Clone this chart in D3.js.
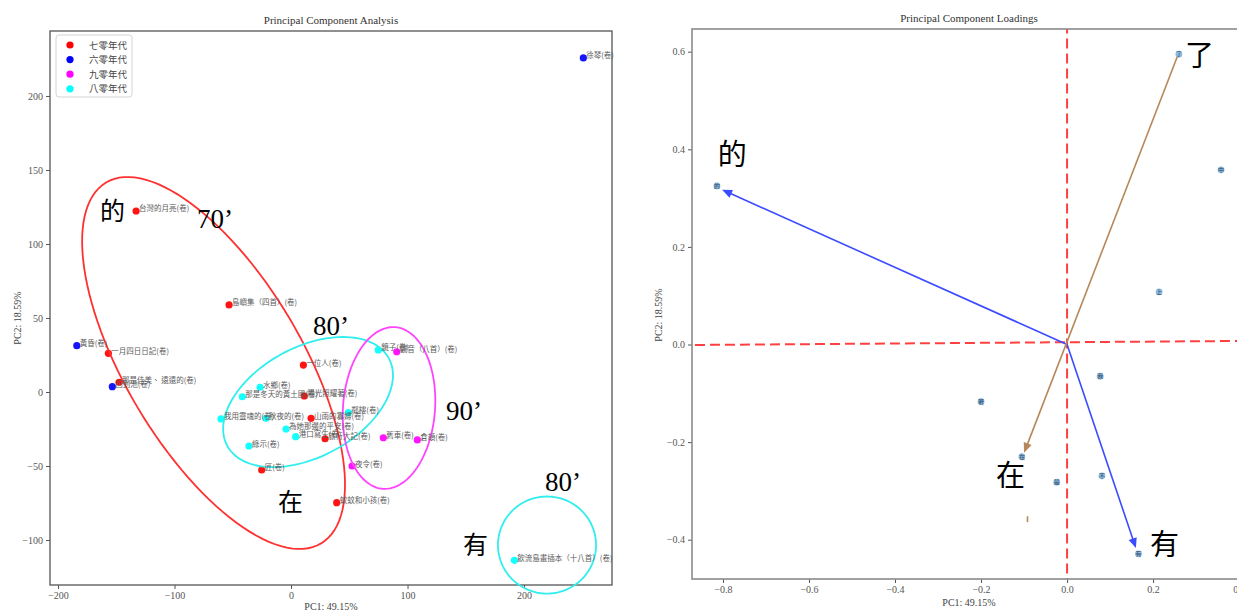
<!DOCTYPE html>
<html><head><meta charset="utf-8">
<script src="https://cdn.jsdelivr.net/npm/d3@7"></script>
<style>body{margin:0;background:#fff}</style>
</head><body>
<svg id="c" width="1237" height="612"></svg>
<script>
// ---------- Left chart data (PCA scores) ----------
const decades = ["七零年代", "六零年代", "九零年代", "八零年代"];
const decadeColors = ["#ff0000", "#0000ff", "#ff00ff", "#00ffff"];

const poemNames = [
  "台灣的月亮(卷)", "島嶼集（四首）(卷)", "一月四日日記(卷)", "那是佳美、 遠遠的(卷)", "一位人(卷)",
  "陽光照耀著(卷)", "山雨的寡婦(卷)", "旅行大記(卷)", "匠(卷)", "蚊蚊和小孩(卷)",
  "徐琴(卷)", "黃昏(卷)", "回到池(卷)",
  "觀音（八首）(卷)", "舊車(卷)", "倉頡(卷)", "夜令(卷)",
  "鏡子(卷)", "水鄉(卷)", "那是冬天的黃土國(卷)", "我用靈魂的(卷)", "秋夜的(卷)",
  "鄰樓(卷)", "為她那邊的平安(卷)", "港口寫生(卷)", "綠示(卷)", "飲流島畫插本（十八首）(卷)"
];
const poemDecade = [
  0, 0, 0, 0, 0, 0, 0, 0, 0, 0,
  1, 1, 1,
  2, 2, 2, 2,
  3, 3, 3, 3, 3, 3, 3, 3, 3, 3
];
const pc1 = [
  -133.0, -53.2, -156.8, -147.6, 10.6, 11.4, 17.2, 29.2, -25.2, 39.2,
  250.9, -183.9, -153.4,
  90.7, 79.2, 108.4, 52.4,
  74.9, -26.6, -41.8, -60.1, -21.5, 49.2, -4.3, 4.0, -36.1, 191.7
];
const pc2 = [
  122.3, 58.8, 26.1, 6.6, 18.2, -2.7, -17.8, -31.6, -52.7, -74.8,
  225.7, 31.3, 3.6,
  27.2, -30.9, -32.4, -50.0,
  28.4, 3.2, -3.2, -18.2, -17.8, -14.0, -25.0, -30.2, -36.5, -113.7
];

const scoreXTicks = [-200, -100, 0, 100, 200];
const scoreYTicks = [-100, -50, 0, 50, 100, 150, 200];

// group ellipses (data units): centre + two conjugate semi-axes
const ellipseColor = ["#ff3030", "#30eeee", "#ff44ff", "#30eeee"];
const ellipseCx = [-66.5, 14.6, 84.1, 219.7];
const ellipseCy = [19.6, -6.8, -10.8, -103.4];
const ellipseU = [[92.3, -121.9], [69.4, 29.5], [5.2, 54.6], [42.1, 0]];
const ellipseV = [[-64.9, -30.5], [22.3, -32.6], [39.4, -2.2], [0, 32.8]];

// big annotations (left)
const annotText = ["的", "70’", "80’", "90’", "在", "80’", "有"];
const annotX = [-164, -80.7, 18.9, 133, -11.2, 218, 147.6];
const annotY = [116.2, 110.8, 38.5, -18.9, -80.4, -66.9, -109.5];

// ---------- Right chart data (loadings) ----------
const words = ["的", "了", "中", "上", "我", "著", "在", "不", "是", "有"];
const loadPC1 = [-0.814, 0.260, 0.358, 0.214, 0.077, -0.200, -0.105, 0.081, -0.024, 0.166];
const loadPC2 = [0.325, 0.595, 0.358, 0.108, -0.065, -0.117, -0.230, -0.269, -0.282, -0.429];

const loadXTicks = [-0.8, -0.6, -0.4, -0.2, 0.0, 0.2, 0.4];
const loadYTicks = [-0.4, -0.2, 0.0, 0.2, 0.4, 0.6];

const arrowFrom = [[0, 0], [0, 0], [0.256, 0.589], [-0.092, -0.352]];
const arrowTo = [[-0.802, 0.317], [0.160, -0.417], [-0.100, -0.222], [-0.092, -0.364]];
const arrowColor = ["#3b4bff", "#3b4bff", "#b7875a", "#b7875a"];
const arrowHead = [true, true, true, false];

const refLineX = [[-0.9, -0.0012], [0.45, 0.0076]]; // near-horizontal dashed reference
const refLineY = [[0, -0.5], [0, 0.7]];             // vertical dashed reference

const loadAnnotText = ["的", "了", "在", "有"];
const loadAnnotX = [-0.812, 0.274, -0.165, 0.193];
const loadAnnotY = [0.368, 0.571, -0.290, -0.431];

// ---------- drawing ----------
const svg = d3.select("#c");
svg.append("rect").attr("width", 1237).attr("height", 612).attr("fill", "#fff");
const serif = "'Liberation Serif', 'Times New Roman', serif";
const cjk = "'Noto Sans CJK TC', 'Noto Sans CJK SC', sans-serif";

function styleAxis(g) {
  g.select(".domain").remove();
  g.selectAll(".tick line").attr("stroke", "#555").attr("stroke-width", 1);
  g.selectAll(".tick text").attr("fill", "#555").style("font-family", serif).style("font-size", "10px");
}

// ===== Left chart =====
const L = {x0: 50, x1: 612, y0: 31, y1: 585};
const xs = d3.scaleLinear().domain([-206.9, 275.5]).range([L.x0, L.x1]);
const ys = d3.scaleLinear().domain([-130.4, 243.9]).range([L.y1, L.y0]);

const left = svg.append("g");
left.append("defs").append("clipPath").attr("id", "clipL")
  .append("rect").attr("x", L.x0).attr("y", L.y0).attr("width", L.x1 - L.x0).attr("height", L.y1 - L.y0);

left.append("g").attr("transform", `translate(0,${L.y1})`)
  .call(d3.axisBottom(xs).tickValues(scoreXTicks).tickSize(4).tickPadding(3)).call(styleAxis);
left.append("g").attr("transform", `translate(${L.x0},0)`)
  .call(d3.axisLeft(ys).tickValues(scoreYTicks).tickSize(4).tickPadding(3)).call(styleAxis);

// ellipses
const nT = 120;
const tSteps = d3.range(nT + 1).map(i => i / nT * 2 * Math.PI);
ellipseCx.forEach((cx, k) => {
  const pts = tSteps.map(t => [
    xs(cx + ellipseU[k][0] * Math.cos(t) + ellipseV[k][0] * Math.sin(t)),
    ys(ellipseCy[k] + ellipseU[k][1] * Math.cos(t) + ellipseV[k][1] * Math.sin(t))
  ]);
  svg.append("path").attr("d", d3.line()(pts)).attr("fill", "none")
    .attr("stroke", ellipseColor[k]).attr("stroke-width", 1.8);
});

// points
const pts = left.append("g").attr("clip-path", "url(#clipL)");
poemNames.forEach((n, i) => {
  pts.append("circle").attr("cx", xs(pc1[i])).attr("cy", ys(pc2[i])).attr("r", 3.6)
    .attr("fill", decadeColors[poemDecade[i]]).attr("opacity", 0.92);
});
poemNames.forEach((n, i) => {
  svg.append("text").attr("x", xs(pc1[i]) + 3).attr("y", ys(pc2[i]) + 0.5)
    .text(n).attr("fill", "#5a5a5a").style("font-family", cjk).style("font-size", "7.5px");
});

// spine
left.append("rect").attr("x", L.x0).attr("y", L.y0).attr("width", L.x1 - L.x0).attr("height", L.y1 - L.y0)
  .attr("fill", "none").attr("stroke", "#555").attr("stroke-width", 1.3);

// annotations
annotText.forEach((t, i) => {
  const isCjk = /[\u4e00-\u9fff]/.test(t);
  svg.append("text").attr("x", xs(annotX[i])).attr("y", ys(annotY[i])).text(t)
    .attr("fill", "#000").style("font-family", isCjk ? cjk : serif)
    .style("font-size", isCjk ? "25px" : "27px");
});

// legend
const lg = svg.append("g");
lg.append("rect").attr("x", 56).attr("y", 35).attr("width", 76).attr("height", 62).attr("rx", 3)
  .attr("fill", "#fff").attr("fill-opacity", 0.85).attr("stroke", "#d4d4d4").attr("stroke-width", 1);
decades.forEach((d, i) => {
  const y = 45 + i * 14.6;
  lg.append("circle").attr("cx", 70).attr("cy", y).attr("r", 3.6).attr("fill", decadeColors[i]);
  lg.append("text").attr("x", 89).attr("y", y + 3.5).text(d).attr("fill", "#444")
    .style("font-family", cjk).style("font-size", "9.5px");
});

// titles & labels
svg.append("text").attr("x", (L.x0 + L.x1) / 2).attr("y", 24).attr("text-anchor", "middle")
  .text("Principal Component Analysis").attr("fill", "#333").style("font-family", serif).style("font-size", "11px");
svg.append("text").attr("x", (L.x0 + L.x1) / 2).attr("y", 610).attr("text-anchor", "middle")
  .text("PC1: 49.15%").attr("fill", "#444").style("font-family", serif).style("font-size", "10px");
svg.append("text").attr("transform", "translate(21,318) rotate(-90)").attr("text-anchor", "middle")
  .text("PC2: 18.59%").attr("fill", "#444").style("font-family", serif).style("font-size", "10px");

// ===== Right chart =====
const R = {x0: 692, x1: 1246, y0: 29, y1: 579};
const xr = d3.scaleLinear().domain([-0.872, 0.416]).range([R.x0, R.x1]);
const yr = d3.scaleLinear().domain([-0.4805, 0.6465]).range([R.y1, R.y0]);

const right = svg.append("g");
right.append("defs").append("clipPath").attr("id", "clipR")
  .append("rect").attr("x", R.x0).attr("y", R.y0).attr("width", R.x1 - R.x0).attr("height", R.y1 - R.y0);

right.append("g").attr("transform", `translate(0,${R.y1})`)
  .call(d3.axisBottom(xr).tickValues(loadXTicks).tickFormat(d3.format(".1f")).tickSize(4).tickPadding(3)).call(styleAxis);
right.append("g").attr("transform", `translate(${R.x0},0)`)
  .call(d3.axisLeft(yr).tickValues(loadYTicks).tickFormat(d3.format(".1f")).tickSize(4).tickPadding(3)).call(styleAxis);

const inner = right.append("g").attr("clip-path", "url(#clipR)");
[refLineX, refLineY].forEach(l => {
  inner.append("line").attr("x1", xr(l[0][0])).attr("y1", yr(l[0][1]))
    .attr("x2", xr(l[1][0])).attr("y2", yr(l[1][1]))
    .attr("stroke", "#ff4040").attr("stroke-width", 2).attr("stroke-dasharray", "10,5");
});

// loading points
words.forEach((w, i) => {
  inner.append("circle").attr("cx", xr(loadPC1[i])).attr("cy", yr(loadPC2[i])).attr("r", 3.4)
    .attr("fill", "#7fb0d8").attr("opacity", 0.9);
  inner.append("text").attr("x", xr(loadPC1[i])).attr("y", yr(loadPC2[i]) + 2.2).attr("text-anchor", "middle")
    .text(w).attr("fill", "#2d4a66").style("font-family", cjk).style("font-size", "6px");
});

// arrows
arrowFrom.forEach((f, i) => {
  const x1 = xr(f[0]), y1 = yr(f[1]), x2 = xr(arrowTo[i][0]), y2 = yr(arrowTo[i][1]);
  const dx = x2 - x1, dy = y2 - y1, len = Math.hypot(dx, dy);
  const ux = dx / len, uy = dy / len;
  const hl = arrowHead[i] ? 10 : 0, hw = 4.2;
  inner.append("line").attr("x1", x1).attr("y1", y1).attr("x2", x2 - ux * hl * 0.8).attr("y2", y2 - uy * hl * 0.8)
    .attr("stroke", arrowColor[i]).attr("stroke-width", 1.6);
  if (arrowHead[i]) {
    const bx = x2 - ux * hl, by = y2 - uy * hl;
    inner.append("path").attr("d", `M${x2},${y2}L${bx - uy * hw},${by + ux * hw}L${bx + uy * hw},${by - ux * hw}Z`)
      .attr("fill", arrowColor[i]);
  }
});

// spine (right edge lies off-screen)
right.append("rect").attr("x", R.x0).attr("y", R.y0).attr("width", R.x1 - R.x0).attr("height", R.y1 - R.y0)
  .attr("fill", "none").attr("stroke", "#8a8a8a").attr("stroke-width", 1.6);

loadAnnotText.forEach((t, i) => {
  svg.append("text").attr("x", xr(loadAnnotX[i])).attr("y", yr(loadAnnotY[i])).text(t)
    .attr("fill", "#000").style("font-family", cjk).style("font-size", "29px");
});

svg.append("text").attr("x", (R.x0 + R.x1) / 2).attr("y", 22).attr("text-anchor", "middle")
  .text("Principal Component Loadings").attr("fill", "#333").style("font-family", serif).style("font-size", "11px");
svg.append("text").attr("x", (R.x0 + R.x1) / 2).attr("y", 606).attr("text-anchor", "middle")
  .text("PC1: 49.15%").attr("fill", "#444").style("font-family", serif).style("font-size", "10px");
svg.append("text").attr("transform", "translate(662,315) rotate(-90)").attr("text-anchor", "middle")
  .text("PC2: 18.59%").attr("fill", "#444").style("font-family", serif).style("font-size", "10px");
</script>
</body></html>
